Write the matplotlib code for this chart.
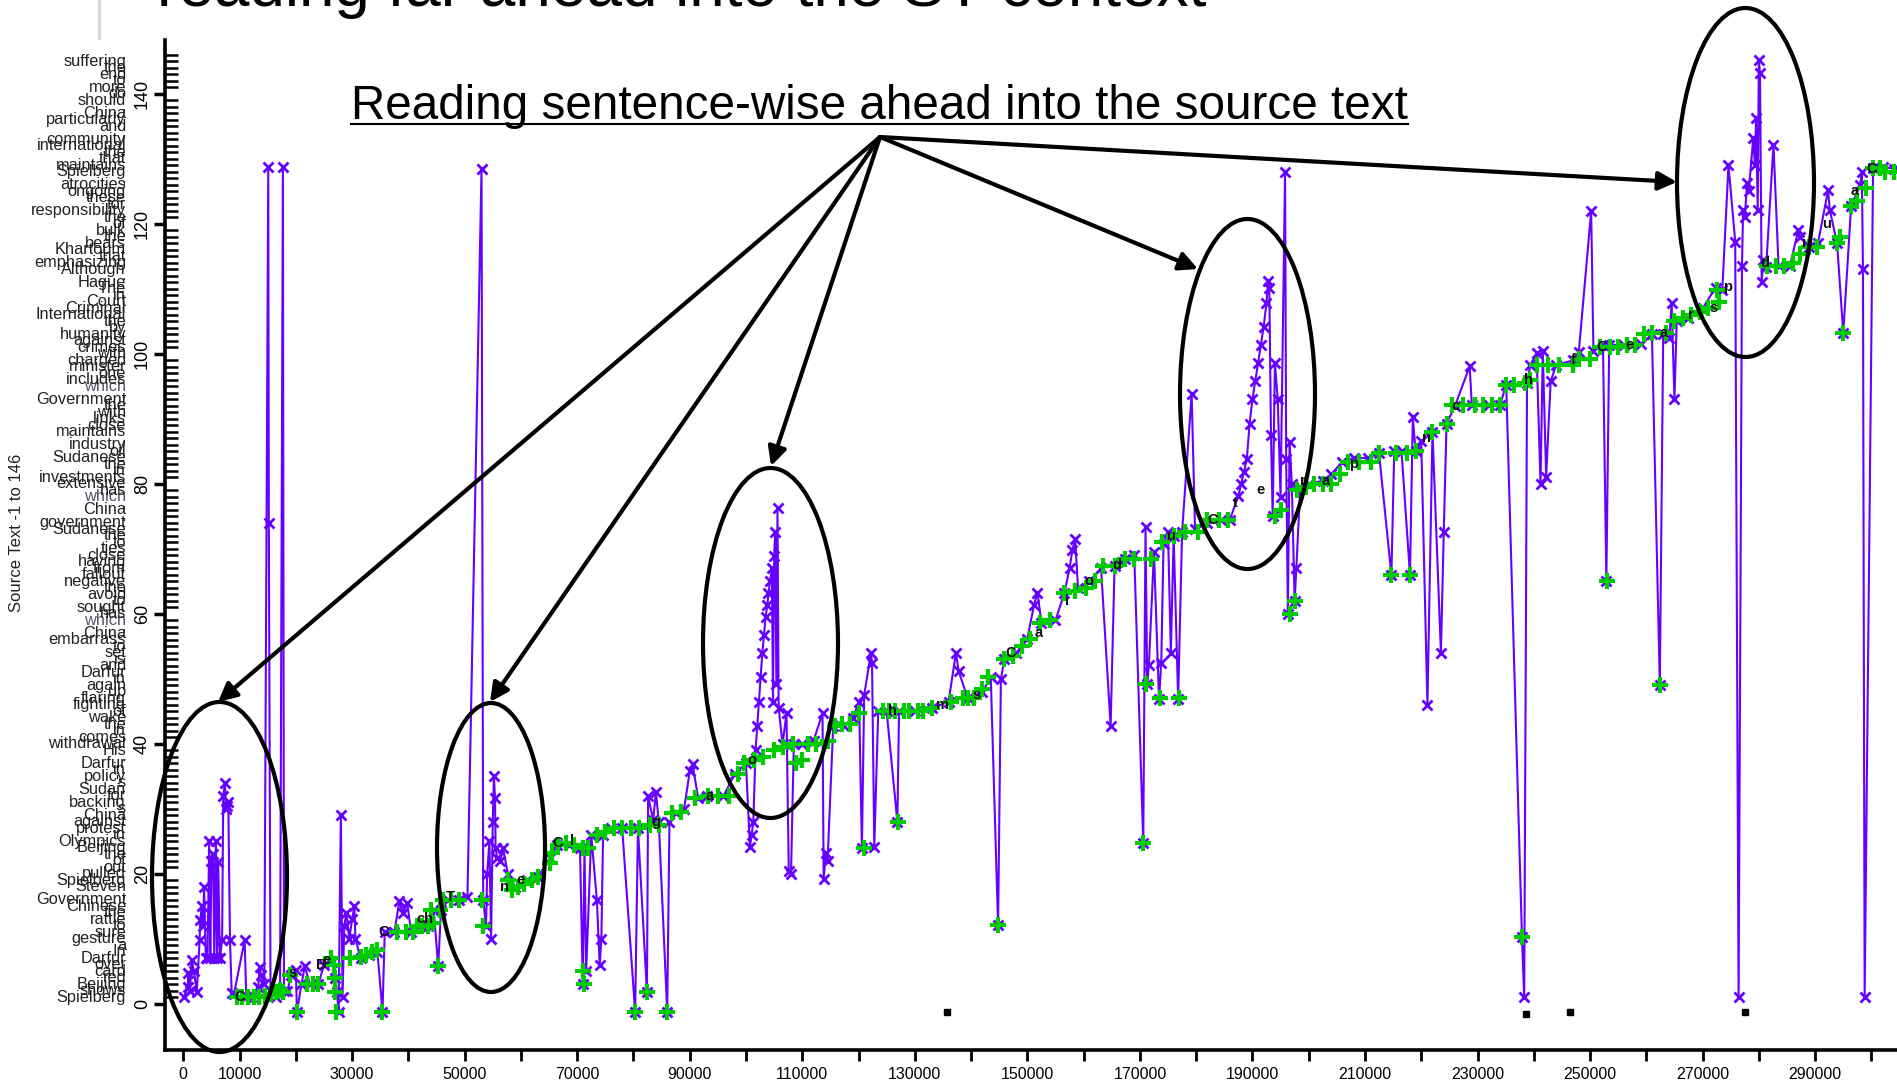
import numpy as np
import matplotlib
matplotlib.use("Agg")
import matplotlib.pyplot as plt
from matplotlib.patches import Ellipse
from matplotlib.lines import Line2D

plt.rcParams['font.family'] = ['Liberation Sans', 'DejaVu Sans']

W, H = 1897, 1086

# source text words, plotted at positions 1..146
words = ["Spielberg", "shows", "Beijing", "red", "card", "over", "Darfur", "In", "a", "gesture",
         "sure", "to", "rattle", "the", "Chinese", "Government", ",", "Steven", "Spielberg", "pulled",
         "out", "of", "the", "Beijing", "Olympics", "in", "protest", "against", "China", "'s",
         "backing", "for", "Sudan", "'s", "policy", "in", "Darfur", ".", "His", "withdrawal",
         "comes", "in", "the", "wake", "of", "fighting", "flaring", "up", "again", "in",
         "Darfur", "and", "is", "set", "to", "embarrass", "China", ",", "which", "has",
         "sought", "to", "avoid", "the", "negative", "fallout", "from", "having", "close", "ties",
         "to", "the", "Sudanese", "government", ".", "China", ",", "which", "has", "extensive",
         "investments", "in", "the", "Sudanese", "oil", "industry", ",", "maintains", "close", "links",
         "with", "the", "Government", ",", "which", "includes", "one", "minister", "charged", "with",
         "crimes", "against", "humanity", "by", "the", "International", "Criminal", "Court", "in", "The",
         "Hague", ".", "Although", "emphasizing", "that", "Khartoum", "bears", "the", "bulk", "of",
         "the", "responsibility", "for", "these", "ongoing", "atrocities", ",", "Spielberg", "maintains", "that",
         "the", "international", "community", ",", "and", "particularly", "China", ",", "should", "do",
         "more", "to", "end", "the", "suffering", "."]

# source text fixations: time (x1000 ms) and word position
fix_t = [0.1, 0.8, 0.9, 1.2, 1.5, 1.9, 2.4, 2.9, 3.0, 3.3, 3.5, 3.7, 4.0, 4.3, 4.6, 4.8, 5.0, 5.3, 5.5, 5.8,
         6.0, 6.2, 6.5, 6.9, 7.1, 7.4, 7.6, 7.7, 8.0, 8.3, 8.6, 9.0, 10.9, 11.2, 12.0, 13.3, 13.6, 13.8, 14.4, 15.1,
         15.2, 15.5, 16.5, 17.2, 17.7, 17.9, 18.5, 19.2, 20.0, 20.2, 21.0, 21.6, 22.5, 24.0, 25.0, 26.5, 27.0, 27.3, 27.6, 28.0,
         28.3, 28.6, 29.0, 29.5, 30.0, 30.4, 30.6, 31.5, 33.0, 34.5, 35.4, 35.8, 37.5, 38.4, 39.0, 39.8, 40.5, 42.0, 43.5, 44.5,
         45.3, 45.8, 47.0, 49.0, 50.5, 53.0, 53.3, 53.8, 54.0, 54.4, 54.7, 55.0, 55.2, 55.4, 55.5, 55.8, 56.3, 56.8, 57.7, 59.0,
         61.0, 63.0, 65.2, 66.5, 68.5, 70.5, 71.0, 71.3, 71.6, 72.5, 73.5, 74.0, 74.3, 74.6, 76.0, 78.0, 80.3, 80.8, 82.4, 82.6,
         83.5, 84.0, 84.5, 86.0, 86.4, 87.5, 89.0, 90.0, 90.5, 91.5, 93.0, 96.0, 98.0, 100.0, 100.7, 101.0, 101.3, 101.7, 102.0, 102.3,
         102.6, 102.9, 103.2, 103.5, 103.8, 104.0, 104.3, 104.6, 104.8, 105.0, 105.2, 105.4, 105.6, 105.8, 106.5, 107.2, 107.6, 108.0, 108.5, 110.0,
         112.0, 113.6, 113.8, 114.2, 114.5, 115.5, 117.5, 119.0, 120.1, 120.6, 121.0, 122.2, 122.4, 122.8, 123.5, 125.0, 126.9, 127.2, 130.0, 133.0,
         136.0, 137.3, 137.8, 139.4, 142.0, 143.5, 144.8, 145.3, 145.9, 148.0, 150.0, 151.2, 151.8, 152.5, 155.0, 156.6, 157.5, 158.0, 158.5, 159.0,
         161.0, 163.1, 164.8, 165.5, 167.4, 169.0, 170.6, 171.0, 171.3, 171.6, 172.5, 173.4, 173.8, 174.2, 175.0, 175.5, 176.0, 176.8, 177.5, 179.2,
         179.8, 182.0, 184.5, 186.0, 187.5, 188.0, 188.5, 189.0, 189.5, 190.0, 190.5, 191.0, 191.5, 192.0, 192.5, 192.8, 193.0, 193.3, 193.6, 194.0,
         194.5, 195.0, 195.8, 196.0, 196.3, 196.6, 197.0, 197.5, 197.8, 198.5, 200.0, 202.5, 204.0, 206.0, 208.0, 210.5, 212.5, 214.7, 215.2, 216.5,
         218.0, 218.5, 219.0, 220.0, 221.1, 222.0, 223.5, 224.0, 224.5, 226.0, 228.6, 229.0, 232.0, 234.0, 235.1, 237.9, 238.3, 238.8, 239.4, 240.5,
         241.2, 241.6, 242.2, 243.0, 244.0, 246.9, 248.0, 250.2, 250.6, 252.3, 252.9, 253.4, 256.0, 259.0, 261.0, 262.4, 263.0, 264.1, 264.5, 265.0,
         265.4, 267.4, 270.0, 272.3, 273.5, 274.6, 275.8, 276.4, 277.0, 277.2, 277.5, 277.9, 278.2, 279.0, 279.3, 279.5, 279.8, 280.0, 280.2, 280.5,
         280.8, 281.3, 282.6, 283.5, 285.5, 287.0, 287.3, 289.0, 290.5, 292.3, 292.6, 293.9, 295.0, 296.4, 298.0, 298.3, 298.5, 298.8, 300.3, 302.0,
         304.0]
fix_y = [1, 2.6, 4.7, 2, 6.8, 5, 1.9, 9.8, 12.9, 15, 12, 18, 7, 7, 25, 7, 22, 23, 7, 25,
         7, 21.9, 7, 9.8, 32, 34, 30, 30.4, 31, 9.8, 1.7, 1.5, 9.8, 1, 1, 2.6, 5.7, 4.5, 3, 128.8,
         74, 2, 1, 2, 128.8, 2, 2, 4.5, 5.2, -1.2, 3, 5.8, 3, 3, 6, 6.5, 4, 1.8, -1.2, 29,
         1, 12, 14, 10, 13, 15, 10, 7, 7.5, 8, -1.2, 11, 11, 15.8, 14, 15.5, 11, 12, 12, 14.5,
         5.8, 14.5, 16, 16, 16.5, 128.5, 16, 12, 20, 25, 10, 28, 35, 31.7, 24, 22.4, 22, 24, 20, 18,
         19, 19.5, 22.5, 24.5, 24.5, 24, 3, 24, 5, 26, 16, 6, 10, 26, 27, 27, -1.2, 27, 1.8, 32,
         28.3, 32.6, 28, -1.2, 28, 29.4, 30, 35.8, 36.9, 31.7, 32, 32, 35.4, 37, 24.2, 26, 28, 39, 42.8, 46.5,
         50.3, 54, 56.8, 59.6, 61.4, 63.3, 65.1, 67, 46.5, 68.9, 72.6, 49.3, 76.3, 45.6, 40, 44.7, 20.5, 20, 40, 40,
         40.5, 44.7, 19.2, 23.3, 22, 42.8, 42.8, 44, 46.5, 24, 47.5, 54, 52.5, 24.2, 45, 45, 28, 45, 45, 45.5,
         46.5, 54, 51.2, 47, 48, 50.3, 12.1, 50, 53, 54, 56.2, 61.4, 63.3, 58.6, 59, 63.3, 67, 69.8, 71.6, 64,
         65, 67, 42.8, 67.4, 68.5, 69, 24.8, 73.4, 49.3, 52.1, 69.5, 46.9, 52.5, 70.7, 72.6, 54, 72, 46.9, 72.6, 93.9,
         73, 74, 74.4, 74.5, 78.2, 80, 81.9, 83.8, 89.3, 93, 95.8, 98.6, 101.4, 104.2, 107.9, 111.3, 110.2, 87.5, 75, 98.6,
         93, 78, 128, 83.8, 60, 86.5, 80, 62, 67, 79.5, 80, 80.5, 81.5, 83.4, 84, 84, 84.7, 66, 85, 85,
         66, 90.3, 85, 86.6, 46, 88, 54, 72.6, 89.3, 92, 98.1, 92.1, 92.1, 92.1, 95.3, 10.3, 1, 95.5, 98.3, 100.1,
         80, 100.5, 81.1, 95.8, 98.3, 99, 100.3, 122, 100.5, 101.4, 65.1, 101.4, 101.4, 101.5, 103, 49.1, 103, 102.4, 107.9, 93,
         105, 105.5, 107, 110.2, 109.8, 129, 117.3, 1, 113.5, 122.2, 121, 126.3, 125, 133.2, 129, 136.3, 122.2, 145.2, 143.2, 111,
         114.5, 113.4, 132.2, 113.5, 113.5, 119, 118, 116.5, 117, 125.2, 122.2, 117, 103.2, 122.8, 126, 128, 113, 1, 128.6, 128.8,
         128.5]

# target text keystrokes: time (x1000 ms) and aligned source position
key_t = [9.5, 10.5, 11.5, 12.5, 13.5, 14.5, 15.5, 16.5, 17.2, 17.8, 19.0, 20.2, 22.0, 23.0, 24.0, 26.2, 26.8, 27.0, 27.0, 27.2,
         29.6, 31.5, 32.5, 33.5, 34.5, 35.4, 38.0, 39.5, 40.9, 41.5, 42.5, 43.5, 44.4, 44.0, 45.3, 45.6, 46.2, 47.5, 49.0, 53.0,
         53.2, 57.7, 58.5, 59.5, 60.5, 62.0, 63.0, 65.2, 65.5, 66.6, 68.0, 69.5, 71.0, 71.0, 71.2, 72.0, 73.5, 75.0, 76.5, 78.0,
         79.5, 80.3, 81.0, 82.4, 83.0, 84.6, 86.0, 86.8, 88.5, 91.0, 93.2, 95.0, 97.0, 98.5, 99.6, 101.5, 103.0, 105.0, 106.5, 108.3,
         108.8, 110.0, 111.0, 112.5, 114.5, 115.8, 117.0, 118.5, 120.0, 121.0, 124.4, 125.5, 126.5, 127.0, 128.0, 129.0, 130.5, 131.5, 133.0, 136.5,
         138.5, 139.4, 140.5, 142.0, 143.0, 144.8, 145.9, 147.5, 149.1, 150.5, 152.3, 154.0, 156.6, 158.5, 160.5, 162.0, 163.5, 165.5, 167.4, 169.0,
         170.6, 171.0, 172.0, 173.5, 174.0, 176.0, 177.0, 178.0, 180.3, 182.0, 184.0, 185.6, 194.0, 195.0, 196.6, 197.5, 198.0, 199.5, 201.0, 202.5,
         204.0, 205.5, 207.0, 209.0, 211.0, 212.5, 214.7, 215.5, 217.5, 218.0, 219.0, 222.0, 224.5, 225.5, 227.5, 229.5, 231.0, 232.5, 234.0, 235.1,
         236.5, 237.9, 238.5, 239.4, 240.5, 242.5, 244.5, 246.9, 248.0, 250.0, 251.8, 253.0, 253.5, 255.0, 256.5, 258.0, 259.5, 261.0, 262.4, 263.5,
         265.0, 266.5, 268.0, 269.5, 271.0, 272.5, 273.0, 281.5, 283.0, 284.5, 286.0, 287.3, 289.0, 290.3, 293.9, 294.5, 295.0, 296.4, 297.5, 299.0,
         300.3, 301.5, 302.5, 304.0]
key_y = [1, 1, 1, 1, 1, 1.2, 1.5, 1.8, 2.2, 1.8, 4.5, -1.2, 3, 3, 3, 7, 6, 4, 1.8, -1.2,
         7, 7.3, 7.5, 8, 8.3, -1.2, 11, 11, 11, 12, 12, 12, 12.5, 14.5, 5.8, 14.5, 16, 16, 16, 16,
         12, 19, 17.5, 18, 18.5, 19, 19.5, 21.7, 23.2, 24.5, 24.8, 24.5, 24, 5, 3, 24, 26, 26.5, 27, 27,
         27, -1.2, 27, 1.8, 27.5, 27.5, -1.2, 29.4, 29.5, 31.7, 32, 32, 32, 35.4, 37, 37.5, 38, 39, 39.5, 40,
         37, 37.5, 40, 40, 40.5, 42.8, 43, 43, 44.7, 24, 45, 45, 45, 28, 45, 45, 45, 45, 45.5, 46.5,
         47, 47, 47, 48.5, 50.3, 12.1, 53, 53.5, 55, 56.2, 58.6, 59, 63.3, 63.5, 64, 65, 67.4, 67.4, 68.5, 68.5,
         24.8, 49.3, 68.5, 47, 71, 72, 47, 72.6, 72.6, 74.4, 74.4, 74.4, 75, 76, 60, 62, 79, 79.5, 80, 80,
         80, 81.5, 83.4, 83.4, 83.4, 84.7, 66, 84.7, 84.7, 66, 85, 88, 89.3, 92.1, 92.1, 92.1, 92.1, 92.1, 92.1, 95.3,
         95.3, 10.3, 95.5, 96, 98.3, 98.3, 98.3, 98.3, 99.2, 99.2, 101, 65.1, 101, 101, 101.4, 101.4, 103, 103.2, 49.1, 103.3,
         105, 105.5, 106, 106.5, 107, 109.8, 108, 113.5, 113.5, 113.5, 114, 115.4, 116.5, 116.5, 117, 118, 103.2, 122.8, 123.5, 125.6,
         128.6, 128.6, 128, 128]

# typed characters shown in black
blk_t = [10.0, 19.5, 24.5, 25.5, 35.6, 43.0, 47.5, 57.0, 60.0, 66.5, 69.0, 84.0, 93.5, 101.0, 114.5, 126.0, 135.0, 141.0,
         147.0, 152.0, 157.0, 161.0, 166.0, 175.5, 183.0, 187.0, 191.5, 199.0, 203.0, 208.0, 221.0, 226.0, 239.0, 247.0,
         252.0, 257.0, 263.0, 268.0, 272.0, 274.4, 281.0, 288.0, 292.0, 297.0, 300.0]
blk_y = [1, 4.8, 6, 6.8, 11, 13, 16.5, 18, 19, 24.8, 25, 28, 32, 37.5, 41, 45, 46, 47.5,
         54, 57, 62, 65, 67.5, 72, 74.5, 77, 79, 80.5, 80.5, 83, 87, 92, 96, 99,
         101, 101.4, 103.3, 106, 107, 110.3, 114, 117, 120, 125, 128.5]
blk_ch = ["C", "s", "B", "e", "C", "ch", "T", "n", "e", "C", "l", "g", "a", "o", "r", "h", "m", "s",
          "C", "a", "i", "o", "d", "u", "C", "t", "e", "r", "a", "p", "n", "c", "h", "f",
          "C", "e", "a", "r", "s", "p", "d", "i", "u", "a", "C"]
stray_t = [135.8, 238.6, 246.5, 277.6]
stray_y = [-1.2, -1.5, -1.3, -1.2]

xtick_vals = list(range(0, 300001, 10000))
xtick_labels = ["0", "10000"] + [str(v) if (v // 10000) % 2 == 1 else "" for v in xtick_vals[2:]]
ytick_vals = [0, 20, 40, 60, 80, 100, 120, 140]

fig = plt.figure(figsize=(W / 100, H / 100), dpi=100)
ax = fig.add_axes([165 / W, 1 - 1050 / H, 1 - 165 / W, (1050 - 40) / H])

ax.plot(np.array(fix_t) * 1000, fix_y, color='#6600ff', lw=1.5, marker='x', ms=7, mew=2, zorder=2)
ax.plot(np.array(key_t) * 1000, key_y, ls='none', marker='+', color='#00cc00', ms=12, mew=3, zorder=3)
for t, y, c in zip(blk_t, blk_y, blk_ch):
    ax.text(t * 1000, y, c, fontsize=10.5, fontweight='bold', ha='center', va='center', color='#111111', zorder=4)
ax.plot(np.array(stray_t) * 1000, stray_y, ls='none', marker='s', ms=4, color='black', zorder=4)

ax.set_xlim(-3250, 304550)
ax.set_ylim(-7.08, 148.3)
for s in ['top', 'right']:
    ax.spines[s].set_visible(False)
for s in ['left', 'bottom']:
    ax.spines[s].set_linewidth(2.6)

ax.set_xticks(xtick_vals)
ax.set_xticklabels(xtick_labels, fontsize=11.5)
ax.set_yticks(ytick_vals)
ax.set_yticklabels([str(v) for v in ytick_vals], fontsize=13, rotation=90, va='center')
ax.set_yticks(range(1, 147), minor=True)
ax.tick_params(axis='x', length=8, width=2, pad=4)
ax.tick_params(axis='y', which='major', length=8, width=2.5, pad=2)
ax.tick_params(axis='y', which='minor', direction='in', length=9, width=1.8)

for i, w in enumerate(words):
    c = '#55556a' if w == 'which' else '#222222'
    ax.text(-0.0225, i + 1, w, transform=ax.get_yaxis_transform(), ha='right', va='center',
            fontsize=11.8, color=c, clip_on=False)

fig.text(17 / W, 1 - 533 / H, "Source Text -1 to 146", rotation=90, ha='center', va='center',
         fontsize=12, color='#222222')

# slide title (cut off at the top) and side bar
fig.text(157 / W, 1 - 6 / H, "reading far ahead into the ST context", fontsize=46, va='baseline')
fig.add_artist(Line2D([98.5 / W, 98.5 / W], [1, 1 - 38 / H], transform=fig.transFigure, color='#d9d9d9', lw=2.5))

# annotation
note = fig.text(351 / W, 1 - 119 / H, "Reading sentence-wise ahead into the source text", fontsize=34.3, va='baseline')
fig.canvas.draw()
bb = note.get_window_extent()
fig.add_artist(Line2D([bb.x0 / W, bb.x1 / W], [1 - 124 / H] * 2, transform=fig.transFigure, color='black', lw=1.5))

ellipses = [(219.5, 877, 135, 350), (491, 847.5, 108, 289), (770.5, 643, 135, 350),
            (1247.5, 394, 135, 350), (1745.5, 182.5, 137, 349)]
for cx, cy, ew, eh in ellipses:
    fig.add_artist(Ellipse((cx / 100, (H - cy) / 100), ew / 100, eh / 100, transform=fig.dpi_scale_trans,
                           fill=False, ec='black', lw=3, zorder=10))

targets = [(218, 702), (490, 702), (771, 466), (1198, 269), (1677, 182)]
for tx, ty in targets:
    ax.annotate('', xy=(tx, H - ty), xycoords='figure pixels', xytext=(880, H - 137), textcoords='figure pixels',
                annotation_clip=False,
                arrowprops=dict(arrowstyle='-|>', color='black', lw=3, mutation_scale=28, shrinkA=0, shrinkB=0))

fig.savefig("out.png", dpi=100)
